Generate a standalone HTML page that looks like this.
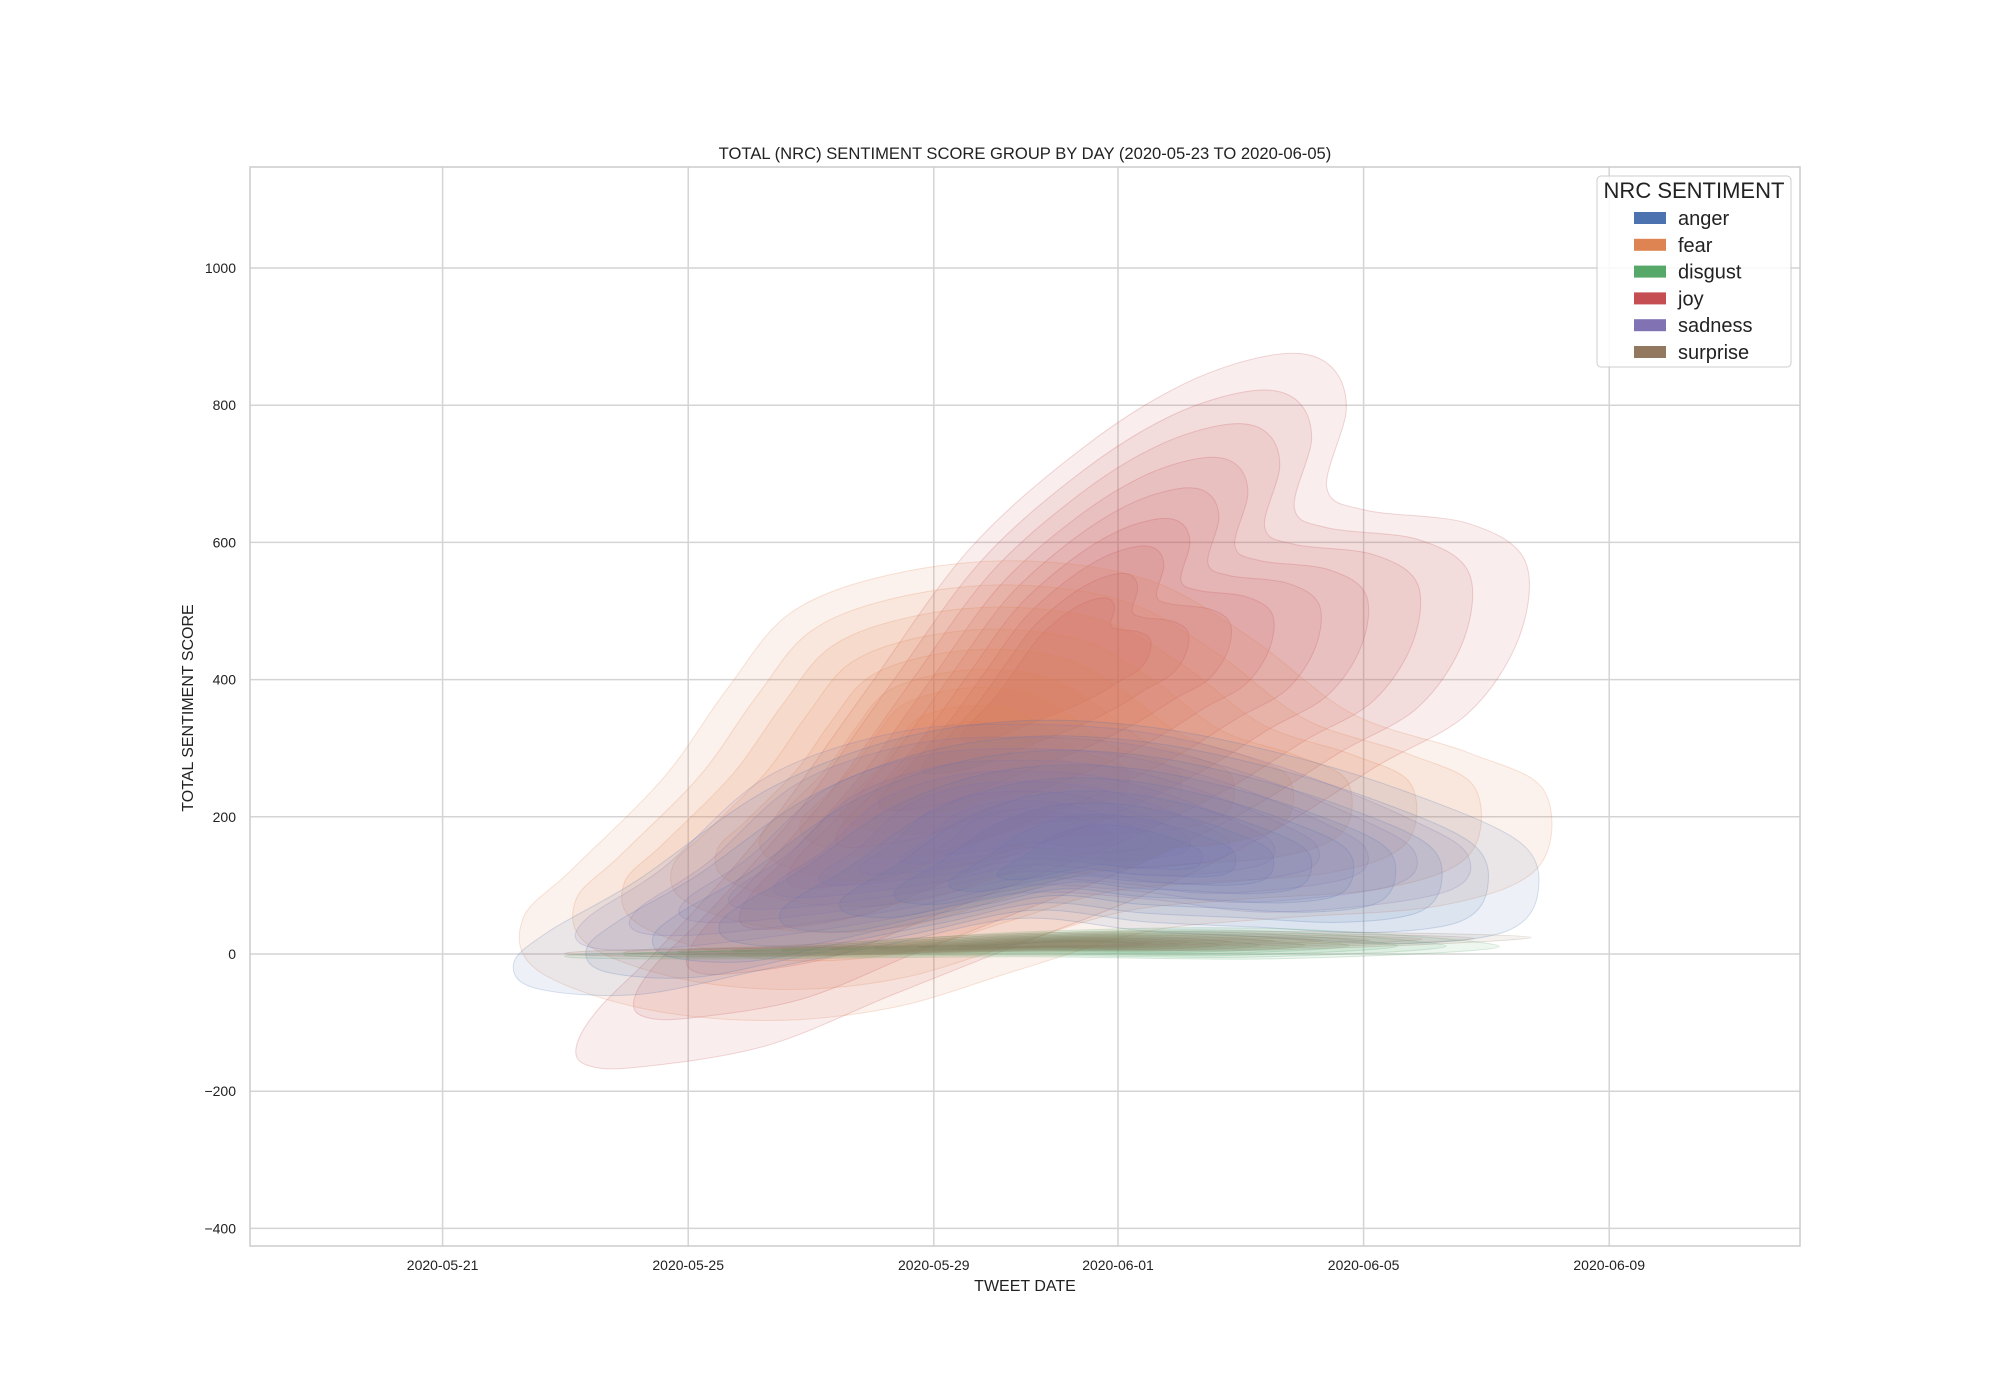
<!DOCTYPE html>
<html><head><meta charset="utf-8"><style>
body{margin:0;background:#fff;}
svg{display:block;font-family:"Liberation Sans",sans-serif;}
</style></head><body>
<svg id="chart" width="2000" height="1400">
<rect width="2000" height="1400" fill="#fff"/>
<g id="grid"></g>
<g id="plot"></g>
<rect x="250" y="167" width="1550" height="1079" fill="none" stroke="#cccccc" stroke-width="1.5"/>
<g id="ticks"></g>
<text x="1025" y="159" text-anchor="middle" font-size="16.6" fill="#222">TOTAL (NRC) SENTIMENT SCORE GROUP BY DAY (2020-05-23 TO 2020-06-05)</text>
<text x="1025" y="1291" text-anchor="middle" font-size="16" fill="#222">TWEET DATE</text>
<text x="193" y="708" text-anchor="middle" font-size="16" fill="#222" transform="rotate(-90 193 708)">TOTAL SENTIMENT SCORE</text>
<g id="legend"></g>
</svg>
<script>
const xTickOffsets=[0,4,8,11,15,19];
const xTickLabels=["2020-05-21","2020-05-25","2020-05-29","2020-06-01","2020-06-05","2020-06-09"];
const yTicks=[-400,-200,0,200,400,600,800,1000];
const seriesNames=["anger","fear","disgust","joy","sadness","surprise"];
const seriesColors=["#4c72b0","#dd8452","#55a868","#c44e52","#8172b3","#937860"];
// outer density contour per series: [dayOffsetFrom2020-05-21, score]
const joyOuter=[[2.18,-134],[2.56,-78],[3.6,15],[5.26,182],[6.92,387],[8.59,591],[10.46,740],[12.12,833],[13.58,874],[14.41,861],[14.72,796],[14.4,680],[15.03,647],[16.69,628],[17.63,573],[17.53,461],[16.69,350],[15.24,275],[13.58,182],[11.5,89],[9.42,15],[7.34,-59],[5.26,-134],[3.18,-165],[2.35,-162]];
const fearOuter=[[1.31,52],[2.14,126],[3.6,257],[4.64,387],[5.68,498],[7.34,554],[9.42,573],[11.5,545],[13.16,461],[14.82,350],[16.69,294],[17.94,238],[17.84,126],[16.28,71],[13.58,52],[11.5,33],[9.42,-22],[7.34,-78],[5.26,-97],[3.18,-78],[1.52,-22]];
const angerOuter=[[1.16,-13],[1.73,33],[3.18,108],[5.26,238],[7.34,312],[9.42,340],[11.5,331],[13.58,294],[15.65,238],[17.53,164],[17.84,89],[17.32,33],[15.65,15],[13.58,24],[11.5,33],[9.42,52],[7.34,15],[5.26,-22],[3.18,-59],[1.52,-50]];
const sadnessOuter=[[2.35,52],[3.6,126],[5.26,257],[7.34,322],[9.42,335],[11.5,322],[13.58,275],[15.65,201],[16.69,145],[16.28,89],[13.58,61],[11.5,80],[9.42,89],[7.34,52],[5.26,24],[3.18,6],[2.25,15]];
const disgustOuter=[[2.35,0],[5.26,7],[9.42,32],[13.58,37],[17.21,11],[13.58,-7],[9.42,-4],[5.26,-7],[2.35,-6]];
const surpriseOuter=[[2.35,4],[5.26,11],[9.42,30],[13.58,33],[17.73,24],[13.58,6],[9.42,4],[5.26,-4],[2.35,-2]];
const peaks={anger:[11,150],fear:[8.5,280],disgust:[10,14],joy:[10,430],sadness:[9.5,180],surprise:[10,14]};
const levelScales=[1,0.88,0.77,0.66,0.56,0.46,0.37,0.28,0.2];

const X0=442.6, DX=61.4, Y0=954, DY=0.686;
const xs=d=>X0+d*DX, ys=v=>Y0-v*DY;
const NS="http://www.w3.org/2000/svg";
const mk=(t,a)=>{const e=document.createElementNS(NS,t);for(const k in a)e.setAttribute(k,a[k]);return e;};
const grid=document.getElementById('grid'),ticks=document.getElementById('ticks');
xTickOffsets.forEach((d,i)=>{
 const l=mk('line',{x1:xs(d),x2:xs(d),y1:167,y2:1246,stroke:'#d4d4d4','stroke-width':1.5});
 
 
 grid.appendChild(l);
 const t=mk('text',{x:xs(d),y:1270,'text-anchor':'middle','font-size':14,fill:'#222'});
 t.textContent=xTickLabels[i];
 
 
 ticks.appendChild(t);
});
yTicks.forEach(v=>{
 const l=mk('line',{x1:250,x2:1800,y1:ys(v),y2:ys(v),stroke:'#d4d4d4','stroke-width':1.5});
 
 
 grid.appendChild(l);
 const t=mk('text',{x:236,y:ys(v)+5,'text-anchor':'end','font-size':14,fill:'#222'});
 t.textContent=v<0?'\u2212'+Math.abs(v):String(v);
 
 
 ticks.appendChild(t);
});
function smooth(pts){
 const n=pts.length;let d=`M${pts[0][0]},${pts[0][1]}`;
 for(let i=0;i<n;i++){const p0=pts[(i-1+n)%n],p1=pts[i],p2=pts[(i+1)%n],p3=pts[(i+2)%n];
  d+=` C${p1[0]+(p2[0]-p0[0])/6},${p1[1]+(p2[1]-p0[1])/6} ${p2[0]-(p3[0]-p1[0])/6},${p2[1]-(p3[1]-p1[1])/6} ${p2[0]},${p2[1]}`;}
 return d+'Z';
}
const outers={anger:angerOuter,fear:fearOuter,disgust:disgustOuter,joy:joyOuter,sadness:sadnessOuter,surprise:surpriseOuter};
const order=["joy","fear","anger","sadness","disgust","surprise"];
const plot=document.getElementById('plot');
order.forEach(name=>{
 const col=seriesColors[seriesNames.indexOf(name)];
 const g=mk('g',{});
 
 
 const [cx,cy]=peaks[name];
 levelScales.forEach(s=>{
  const pts=outers[name].map(([d,v])=>[xs(cx+(d-cx)*s),ys(cy+(v-cy)*s)]);
  const p=mk('path',{d:smooth(pts),fill:col,'fill-opacity':0.1,stroke:col,'stroke-opacity':0.22,'stroke-width':1});
  
  
  g.appendChild(p);
 });
 plot.appendChild(g);
});
const lg=document.getElementById('legend');
const box=mk('rect',{x:1597,y:176,width:194,height:191,rx:4,fill:'#fff','fill-opacity':0.85,stroke:'#cccccc'});


lg.appendChild(box);
const tt=mk('text',{x:1694,y:198,'text-anchor':'middle','font-size':22,fill:'#222'});tt.textContent='NRC SENTIMENT';


lg.appendChild(tt);
seriesNames.forEach((n,i)=>{
 const y=218+i*26.8;
 const g=mk('g',{});
 
 
 g.appendChild(mk('rect',{x:1634,y:y-6,width:32,height:12,fill:seriesColors[i]}));
 const t=mk('text',{x:1678,y:y+7,'font-size':20,fill:'#222'});t.textContent=n;
 g.appendChild(t);
 lg.appendChild(g);
});
</script>
</body></html>
